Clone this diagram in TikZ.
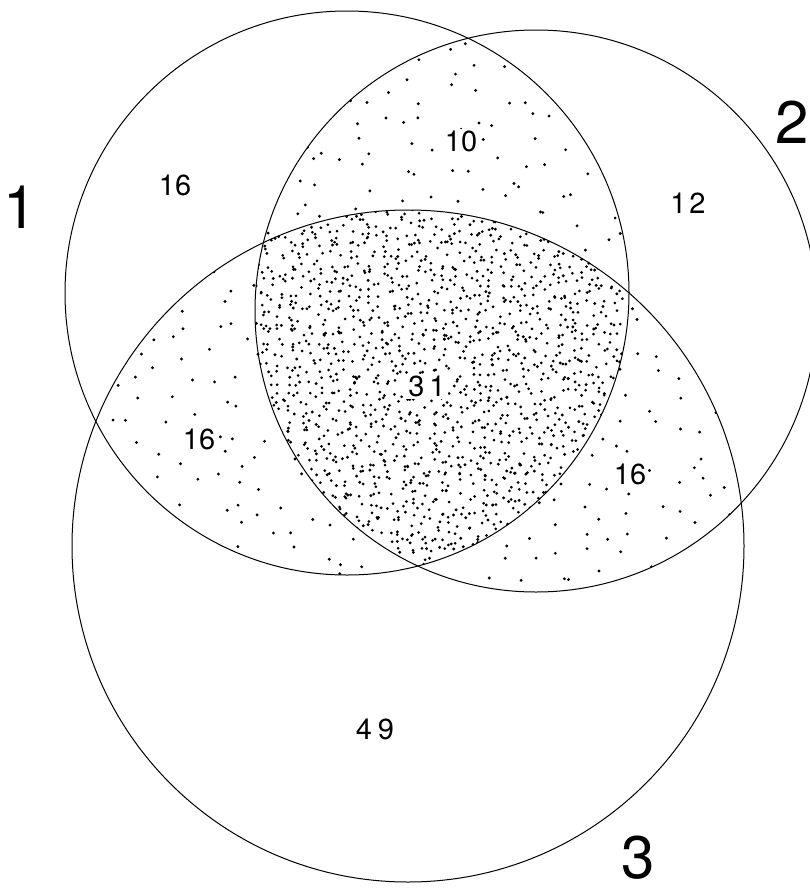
\documentclass[tikz,border=0pt]{standalone}
\usepackage{fontspec}
\setmainfont{TeX Gyre Heros}
\newcommand\mystipple[6]{%
  \foreach \i in {0,...,#3}{\foreach \j in {0,...,#4}{%
    \pgfmathsetmacro\px{#1+(\i+rnd)*#5}%
    \pgfmathsetmacro\py{#2+(\j+rnd)*#5}%
    \fill (\px,\py) circle[radius=#6];}}}
\begin{document}
\begin{tikzpicture}[x=1pt,y=-1pt,
  ring/.style={draw=black,line width=1pt},
  small/.style={font=\fontsize{29}{31}\selectfont,inner sep=0pt},
  dotted label/.style={small,fill=white,inner sep=2pt},
  big/.style={font=\fontsize{60}{62}\selectfont,inner sep=0pt}]
\fill[white] (0,0) rectangle (810,894);
\useasboundingbox (0,0) rectangle (810,894);
\pgfmathsetseed{4711}
\coordinate (c1) at (347,293);
\coordinate (c2) at (536,311);
\coordinate (c3) at (408,546);
% pairwise overlaps: sparse stipple
\begin{scope}
  \clip (c1) circle[radius=282pt];
  \clip (c2) circle[radius=281pt];
  \mystipple{256}{28}{15}{21}{26}{1.6pt}
\end{scope}
\begin{scope}
  \clip (c1) circle[radius=282pt];
  \clip (c3) circle[radius=336pt];
  \mystipple{72}{208}{22}{15}{26}{1.6pt}
\end{scope}
\begin{scope}
  \clip (c2) circle[radius=281pt];
  \clip (c3) circle[radius=336pt];
  \mystipple{255}{208}{19}{15}{26}{1.6pt}
\end{scope}
% triple overlap: dense stipple
\begin{scope}
  \clip (c1) circle[radius=282pt];
  \clip (c2) circle[radius=281pt];
  \clip (c3) circle[radius=336pt];
  \mystipple{255}{208}{38}{37}{10}{1.5pt}
\end{scope}
\draw[ring] (c1) circle[radius=282pt];
\draw[ring] (c2) circle[radius=281pt];
\draw[ring] (c3) circle[radius=336pt];
% set labels
\node[big] (l1) at (20,207) {1};
\node[big] (l2) at (792,122) {2};
\node[big] (l3) at (638,858) {3};
% counts
\node[small] (n16a) at (175,185) {16};
\node[dotted label] (n10) at (461,141) {10};
\node[small] (n12) at (688,203) {1\hspace{3pt}2};
\node[dotted label] (n31) at (427,386) {3\hspace{5pt}1};
\node[dotted label] (n16b) at (199,439) {16};
\node[dotted label] (n16c) at (630,474) {16};
\node[small] (n49) at (375,729) {4\hspace{6pt}9};
\end{tikzpicture}
\end{document}
